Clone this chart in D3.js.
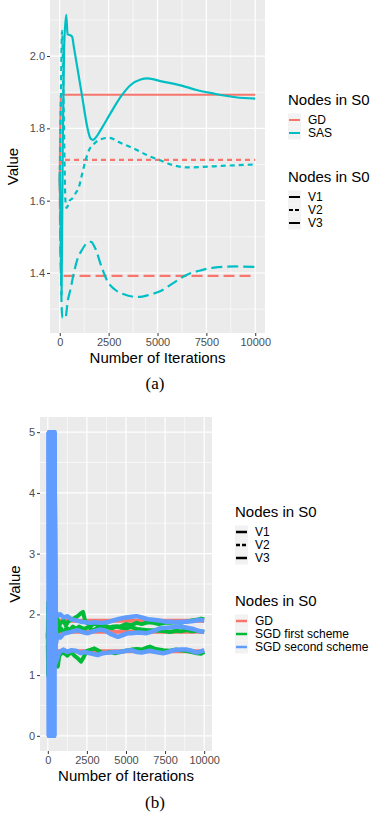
<!DOCTYPE html>
<html>
<head>
<meta charset="utf-8">
<script src="https://cdn.jsdelivr.net/npm/d3@7"></script>
<style>
  body { margin: 0; background: #fff; }
  svg { display: block; font-family: 'Liberation Sans', Arial, sans-serif; }
</style>
</head>
<body>
<svg id="chart" width="371" height="820"></svg>
<script>
// ---- data (a) ----
let xTicks = [0, 2500, 5000, 7500, 10000]
let xMinor = [1250, 3750, 6250, 8750]
let yTicksA = [1.4, 1.6, 1.8, 2.0]
let yMinorA = [1.3, 1.5, 1.7, 1.9, 2.1]
let yTicksB = [0, 1, 2, 3, 4, 5]
let yMinorB = [0.5, 1.5, 2.5, 3.5, 4.5]

let gdV1 = [[0, 1.65], [25, 1.8], [55, 1.89], [90, 1.893], [10000, 1.893]]
let gdV2 = [[0, 1.65], [25, 1.7], [55, 1.713], [10000, 1.713]]
let gdV3 = [[0, 1.65], [25, 1.45], [55, 1.392], [10000, 1.392]]

let sasV1 = [[0, 1.68], [40, 1.55], [90, 1.34], [150, 1.75], [220, 2.02], [330, 2.114], [400, 2.06], [513, 2.058], [636, 2.053], [718, 2.026], [892, 1.97], [1149, 1.887], [1405, 1.804], [1574, 1.772], [1700, 1.768], [1850, 1.775], [2087, 1.795], [2600, 1.842], [3113, 1.887], [3626, 1.92], [4138, 1.935], [4480, 1.938], [5200, 1.93], [6190, 1.919], [7000, 1.906], [7897, 1.896], [9000, 1.886], [10000, 1.882]]
let sasV2 = [[0, 1.66], [60, 1.9], [120, 2.07], [200, 1.85], [290, 1.6], [350, 1.58], [500, 1.6], [640, 1.606], [800, 1.62], [975, 1.637], [1150, 1.675], [1318, 1.711], [1500, 1.74], [1744, 1.757], [2100, 1.77], [2513, 1.774], [3100, 1.76], [3795, 1.744], [4500, 1.725], [5164, 1.711], [5800, 1.698], [6533, 1.692], [7200, 1.693], [7897, 1.695], [9000, 1.698], [10000, 1.7]]
let sasV3 = [[0, 1.66], [50, 1.45], [100, 1.3], [140, 1.276], [292, 1.275], [400, 1.32], [549, 1.355], [700, 1.395], [890, 1.436], [1150, 1.465], [1405, 1.483], [1600, 1.486], [1800, 1.47], [2150, 1.415], [2430, 1.378], [2800, 1.355], [3283, 1.341], [3700, 1.335], [4138, 1.334], [4600, 1.34], [5164, 1.35], [5800, 1.372], [6533, 1.396], [7200, 1.407], [7897, 1.415], [9000, 1.418], [10000, 1.417]]

// ---- data (b) ----
let gdBV1 = [[0, 1.65], [40, 1.893], [10000, 1.893]]
let gdBV2 = [[0, 1.65], [40, 1.713], [10000, 1.713]]
let gdBV3 = [[0, 1.65], [40, 1.392], [10000, 1.392]]

let sgd1V1 = [[0, 1.6], [20, 2.2], [45, 1.1], [70, 2.1], [100, 1.3], [130, 2.0], [160, 1.5], [200, 2.1], [250, 1.6], [300, 1.95], [350, 1.55], [420, 1.9], [500, 1.75], [600, 1.95], [700, 1.8], [835, 1.86], [1000, 1.9], [1150, 1.82], [1300, 1.88], [1480, 1.91], [1700, 1.94], [1900, 1.97], [2120, 2.02], [2250, 2.04], [2400, 1.88], [2600, 1.84], [2800, 1.82], [3000, 1.85], [3300, 1.8], [3600, 1.82], [3900, 1.78], [4200, 1.8], [4610, 1.8], [5000, 1.84], [5300, 1.82], [5680, 1.86], [6000, 1.84], [6400, 1.87], [6740, 1.86], [7100, 1.84], [7500, 1.86], [7820, 1.86], [8200, 1.87], [8500, 1.86], [8890, 1.88], [9200, 1.9], [9500, 1.91], [9800, 1.93], [10000, 1.92]]
let sgd1V2 = [[0, 1.7], [25, 1.0], [50, 2.0], [80, 1.2], [110, 1.9], [150, 1.3], [190, 1.8], [240, 1.45], [300, 1.85], [360, 1.55], [430, 1.8], [500, 1.62], [600, 1.8], [700, 1.72], [835, 1.77], [1000, 1.7], [1200, 1.78], [1400, 1.74], [1600, 1.8], [1800, 1.76], [2000, 1.8], [2300, 1.76], [2600, 1.79], [2900, 1.74], [3200, 1.78], [3500, 1.76], [3800, 1.8], [4100, 1.77], [4400, 1.8], [4700, 1.78], [5030, 1.77], [5300, 1.79], [5700, 1.76], [6000, 1.75], [6400, 1.74], [6740, 1.74], [7100, 1.73], [7500, 1.72], [7820, 1.71], [8200, 1.73], [8500, 1.72], [8890, 1.74], [9200, 1.72], [9600, 1.73], [10000, 1.71]]
let sgd1V3 = [[0, 1.5], [20, 1.0], [45, 1.9], [75, 1.1], [110, 1.7], [150, 1.15], [200, 1.6], [260, 1.2], [330, 1.55], [400, 1.25], [480, 1.5], [560, 1.2], [640, 1.14], [720, 1.3], [835, 1.36], [1050, 1.36], [1250, 1.32], [1480, 1.38], [1700, 1.32], [1900, 1.28], [2120, 1.22], [2300, 1.3], [2500, 1.4], [2750, 1.42], [2980, 1.44], [3250, 1.4], [3500, 1.36], [3800, 1.37], [4030, 1.38], [4300, 1.36], [4610, 1.38], [5000, 1.4], [5350, 1.42], [5700, 1.43], [6000, 1.42], [6300, 1.45], [6530, 1.47], [6900, 1.43], [7380, 1.41], [7800, 1.4], [8200, 1.42], [8460, 1.41], [8800, 1.4], [9200, 1.38], [9530, 1.36], [9800, 1.35], [10000, 1.38]]

// burn-in of the second scheme: jumps between 0 and 5
let burnIters = [60, 75, 90, 105, 120, 135, 150, 165, 180, 195, 210, 225, 240, 255, 270, 285, 300, 315, 330, 345, 360, 375, 390, 405, 420]
let burnVals = [5, 0, 5, 0, 5, 0, 5, 0, 5, 0, 5, 0, 5, 0, 5, 0, 5, 0, 5, 0, 5, 0, 5, 0, 5]

let sgd2V1 = [[500, 2.05], [620, 1.98], [800, 2.0], [1000, 1.95], [1260, 1.97], [1500, 1.92], [1800, 1.9], [2100, 1.88], [2400, 1.87], [2700, 1.86], [3000, 1.87], [3400, 1.86], [3800, 1.87], [4200, 1.9], [4610, 1.93], [5000, 1.95], [5350, 1.96], [5680, 1.97], [6000, 1.95], [6400, 1.92], [6740, 1.91], [7100, 1.9], [7500, 1.88], [7820, 1.88], [8200, 1.87], [8600, 1.88], [8890, 1.88], [9300, 1.89], [9700, 1.91], [10000, 1.9]]
let sgd2V2 = [[500, 1.5], [623, 1.66], [800, 1.62], [1000, 1.68], [1300, 1.7], [1600, 1.72], [1900, 1.74], [2200, 1.71], [2550, 1.69], [2900, 1.72], [3300, 1.75], [3620, 1.74], [4000, 1.68], [4480, 1.63], [4800, 1.66], [5120, 1.69], [5350, 1.69], [5800, 1.7], [6320, 1.69], [6700, 1.72], [7170, 1.77], [7600, 1.78], [8000, 1.79], [8460, 1.8], [8900, 1.78], [9290, 1.76], [9600, 1.73], [10000, 1.71]]
let sgd2V3 = [[500, 1.2], [730, 1.38], [1000, 1.42], [1250, 1.38], [1480, 1.41], [1800, 1.4], [2100, 1.36], [2340, 1.38], [2700, 1.36], [3190, 1.33], [3500, 1.36], [3900, 1.37], [4260, 1.38], [4610, 1.38], [5000, 1.4], [5350, 1.41], [5700, 1.38], [6000, 1.37], [6500, 1.4], [6900, 1.38], [7380, 1.36], [7700, 1.38], [8030, 1.41], [8500, 1.42], [8890, 1.42], [9200, 1.4], [9530, 1.37], [9800, 1.39], [10000, 1.41]]

let colors = { GD: '#F8766D', SAS: '#00BFC4', SGD1: '#00BA38', SGD2: '#619CFF' }
let dashA = { V1: null, V2: '5,4', V3: '11,5' }

const svg = d3.select('#chart')

function burn() {
  return burnIters.map((it, i) => [it, burnVals[i]])
}

function drawPanel(p) {
  let x = d3.scaleLinear().domain([-500, 10500]).range([p.left, p.right])
  let y = d3.scaleLinear().domain(p.yDomain).range([p.bottom, p.top])
  let g = svg.append('g')

  g.append('rect')
    .attr('x', p.left).attr('y', p.top)
    .attr('width', p.right - p.left).attr('height', p.bottom - p.top)
    .attr('fill', '#EBEBEB')

  // minor grid
  g.selectAll('.minx').data(xMinor).enter().append('line')
    .attr('x1', d => x(d)).attr('x2', d => x(d))
    .attr('y1', p.top).attr('y2', p.bottom)
    .attr('stroke', '#fff').attr('stroke-width', 0.6)
  g.selectAll('.miny').data(p.yMinor).enter().append('line')
    .attr('y1', d => y(d)).attr('y2', d => y(d))
    .attr('x1', p.left).attr('x2', p.right)
    .attr('stroke', '#fff').attr('stroke-width', 0.6)
  // major grid
  g.selectAll('.majx').data(xTicks).enter().append('line')
    .attr('x1', d => x(d)).attr('x2', d => x(d))
    .attr('y1', p.top).attr('y2', p.bottom)
    .attr('stroke', '#fff').attr('stroke-width', 1.2)
  g.selectAll('.majy').data(p.yTicks).enter().append('line')
    .attr('y1', d => y(d)).attr('y2', d => y(d))
    .attr('x1', p.left).attr('x2', p.right)
    .attr('stroke', '#fff').attr('stroke-width', 1.2)

  let clipId = 'clip' + p.name
  svg.append('clipPath').attr('id', clipId).append('rect')
    .attr('x', p.left).attr('y', p.top)
    .attr('width', p.right - p.left).attr('height', p.bottom - p.top)

  let lines = g.append('g').attr('clip-path', `url(#${clipId})`)
  p.series.forEach(s => {
    let line = d3.line()
      .x(d => x(d[0]))
      .y(d => y(d[1]))
      .curve(s.smooth ? d3.curveMonotoneX : d3.curveLinear)
    lines.append('path')
      .datum(s.data)
      .attr('d', line)
      .attr('fill', 'none')
      .attr('stroke', s.color)
      .attr('stroke-width', s.width)
      .attr('stroke-dasharray', s.dash)
      .attr('stroke-linejoin', 'round')
  })

  // axes
  let xAxis = g.append('g')
    .attr('transform', `translate(0,${p.bottom})`)
    .call(d3.axisBottom(x).tickValues(xTicks).tickSize(3).tickPadding(2).tickFormat(d3.format('d')))
  let yAxis = g.append('g')
    .attr('transform', `translate(${p.left},0)`)
    .call(d3.axisLeft(y).tickValues(p.yTicks).tickSize(3).tickPadding(2).tickFormat(p.fmt))
  ;[xAxis, yAxis].forEach(a => {
    a.select('.domain').remove()
    a.selectAll('line').attr('stroke', '#333').attr('stroke-width', 1)
    a.selectAll('text').attr('fill', '#4D4D4D').style('font-size', '11px')
      .style('font-family', "'Liberation Sans', Arial, sans-serif")
  })

  g.append('text')
    .attr('x', (p.left + p.right) / 2).attr('y', p.bottom + 30)
    .attr('text-anchor', 'middle').style('font-size', '15px')
    .text('Number of Iterations')
  g.append('text')
    .attr('transform', `translate(${p.yLabelX},${(p.top + p.bottom) / 2}) rotate(-90)`)
    .attr('text-anchor', 'middle').style('font-size', '15px')
    .text('Value')
  g.append('text')
    .attr('x', 155).attr('y', p.caption)
    .attr('text-anchor', 'middle')
    .style('font-family', "'Liberation Serif', 'Times New Roman', serif")
    .style('font-size', '17px')
    .text(p.label)
}

function drawLegend(lx, ty, title, items, keyWidth) {
  let g = svg.append('g')
  g.append('text').attr('x', lx).attr('y', ty + 5).style('font-size', '15px').text(title)
  items.forEach((it, i) => {
    let cy = ty + 20 + i * 13
    g.append('rect').attr('x', lx).attr('y', cy - 6.5).attr('width', 13).attr('height', 13).attr('fill', '#F2F2F2')
    g.append('line')
      .attr('x1', lx + 1).attr('x2', lx + 12).attr('y1', cy).attr('y2', cy)
      .attr('stroke', it.color).attr('stroke-width', keyWidth)
      .attr('stroke-dasharray', it.dash)
    g.append('text').attr('x', lx + 20).attr('y', cy + 4).style('font-size', '12px').text(it.label)
  })
}

// panel (a)
drawPanel({
  name: 'a', left: 50, right: 265, top: 0, bottom: 333,
  yDomain: [1.234, 2.155], yTicks: yTicksA, yMinor: yMinorA, fmt: d3.format('.1f'),
  yLabelX: 18, caption: 389, label: '(a)',
  series: [
    { data: gdV1, color: colors.GD, width: 2.2, dash: dashA.V1 },
    { data: gdV2, color: colors.GD, width: 2.2, dash: dashA.V2 },
    { data: gdV3, color: colors.GD, width: 2.2, dash: dashA.V3 },
    { data: sasV1, color: colors.SAS, width: 2.2, dash: dashA.V1, smooth: true },
    { data: sasV2, color: colors.SAS, width: 2.2, dash: dashA.V2, smooth: true },
    { data: sasV3, color: colors.SAS, width: 2.2, dash: dashA.V3, smooth: true }
  ]
})
drawLegend(288, 100, 'Nodes in S0', [
  { label: 'GD', color: colors.GD },
  { label: 'SAS', color: colors.SAS }
], 2)
drawLegend(288, 177, 'Nodes in S0', [
  { label: 'V1', color: '#000' },
  { label: 'V2', color: '#000', dash: '4,2' },
  { label: 'V3', color: '#000' }
], 2)

// panel (b)
drawPanel({
  name: 'b', left: 40, right: 212, top: 417, bottom: 751,
  yDomain: [-0.25, 5.25], yTicks: yTicksB, yMinor: yMinorB, fmt: d3.format('d'),
  yLabelX: 20, caption: 808, label: '(b)',
  series: [
    { data: gdBV1, color: colors.GD, width: 4 },
    { data: gdBV2, color: colors.GD, width: 4 },
    { data: gdBV3, color: colors.GD, width: 4 },
    { data: sgd1V1, color: colors.SGD1, width: 4 },
    { data: sgd1V2, color: colors.SGD1, width: 4 },
    { data: sgd1V3, color: colors.SGD1, width: 4 },
    { data: burn().concat(sgd2V1), color: colors.SGD2, width: 4.5 },
    { data: burn().concat(sgd2V2), color: colors.SGD2, width: 4.5 },
    { data: burn().concat(sgd2V3), color: colors.SGD2, width: 4.5 }
  ]
})
drawLegend(235, 512, 'Nodes in S0', [
  { label: 'V1', color: '#000' },
  { label: 'V2', color: '#000', dash: '4,2' },
  { label: 'V3', color: '#000' }
], 2.5)
drawLegend(235, 601, 'Nodes in S0', [
  { label: 'GD', color: colors.GD },
  { label: 'SGD first scheme', color: colors.SGD1 },
  { label: 'SGD second scheme', color: colors.SGD2 }
], 2.5)
</script>
</body>
</html>
